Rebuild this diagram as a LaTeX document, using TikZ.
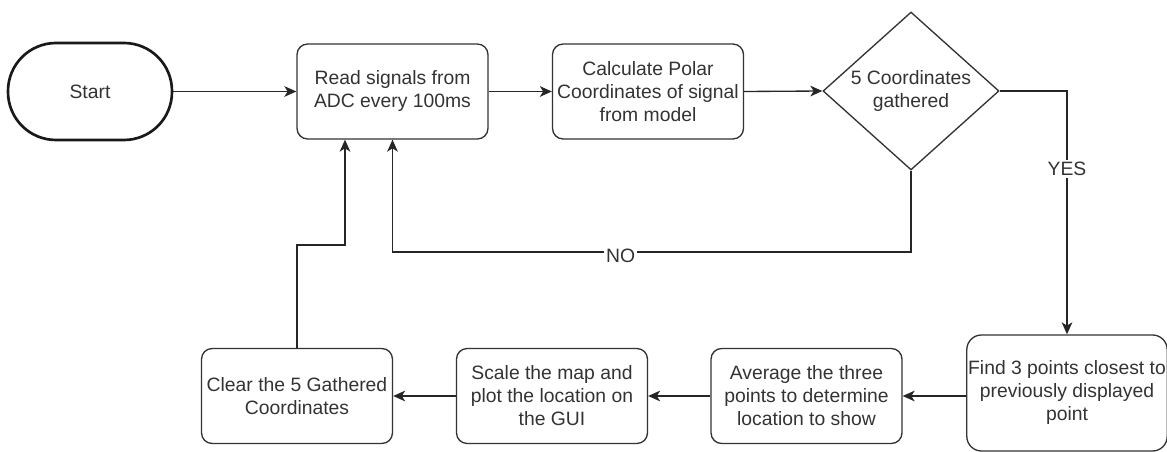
\documentclass[tikz,border=0pt]{standalone}
\usepackage{fontspec}
\setmainfont{Liberation Sans}
\usetikzlibrary{shapes.geometric,arrows.meta}

\begin{document}
\begin{tikzpicture}[x=0.75pt, y=-0.75pt,
    font=\fontsize{14.5}{17.25}\selectfont, text=black!80,
    startbox/.style={draw=black!90, line width=2pt, rounded corners=36pt, minimum width=123pt, minimum height=72.75pt},
    box/.style={draw=black!80, line width=1pt, rounded corners=8pt, align=center, inner sep=1pt, minimum width=143.25pt, minimum height=71.25pt},
    decision/.style={diamond, draw=black!80, line width=1pt, aspect=1.11, inner sep=0pt, align=center, minimum width=132pt, minimum height=118.5pt},
    flow/.style={draw=black!85, line width=1pt, -{Stealth[length=9pt,width=8pt,inset=2.5pt]}},
    lbl/.style={fill=white, inner sep=1.5pt}]
      \useasboundingbox (0,0) rectangle (1167,452);

      % Nodes
      \node[startbox] (start) at (90,91.5) {Start};
      \node[box] (read) at (392.5,91.5) {Read signals from\\ADC every 100ms};
      \node[box] (calc) at (648,91.5) {Calculate Polar\\Coordinates of signal\\from model};
      \node[decision] (check) at (911,91) {5 Coordinates\\gathered};
      \node[box, minimum width=147pt, minimum height=87pt, rounded corners=11pt] (find) at (1067,393) {Find 3 points closest to\\previously displayed\\point};
      \node[box] (avg) at (806.5,396) {Average the three\\points to determine\\location to show};
      \node[box] (scale) at (552,396) {Scale the map and\\plot the location on\\the GUI};
      \node[box] (clear) at (297,396) {Clear the 5 Gathered\\Coordinates};

      % Bends
      \coordinate (nobend) at (911,252);
      \coordinate (noend) at (392.5,252);
      \coordinate (clrbend) at (297,245);
      \coordinate (clrend) at (345,245);

      % Top row
      \draw[flow] (start.east) -- (read.west);
      \draw[flow] (read.east) -- (calc.west);
      \draw[flow] (calc.east) -- (check.west);

      % Decision
      \draw[flow] (check.east) -| node[lbl, pos=0.66] {YES} (find.north);
      \draw[flow] (check.south) -- (nobend) -- node[lbl, pos=0.56, yshift=-3pt] {NO} (noend) -- (read.south);

      % Bottom row
      \draw[flow] (find.west |- avg.east) -- (avg.east);
      \draw[flow] (avg.west) -- (scale.east);
      \draw[flow] (scale.west) -- (clear.east);
      \draw[flow] (clear.north) -- (clrbend) -- (clrend) -- (clrend |- read.south);
    \end{tikzpicture}
\end{document}
